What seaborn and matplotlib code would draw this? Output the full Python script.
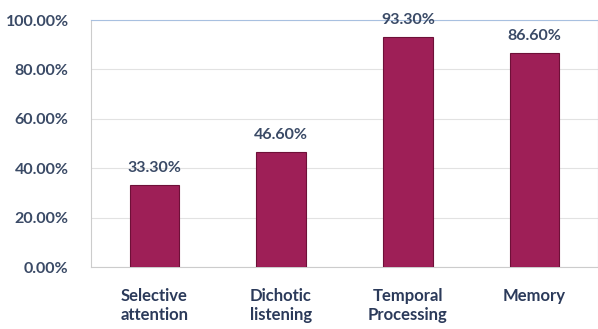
import pandas as pd
import numpy as np
import matplotlib
matplotlib.use("Agg")
import matplotlib.pyplot as plt
import seaborn as sns

# data
categories = ["Selective\nattention", "Dichotic\nlistening", "Temporal\nProcessing", "Memory"]
values = [33.3, 46.6, 93.3, 86.6]
yticks = [0, 20, 40, 60, 80, 100]

df = pd.DataFrame({"cat": categories, "val": values})

sns.set_style("white")
plt.rcParams["font.family"] = ["Lato", "DejaVu Sans"]

fig = plt.figure(figsize=(5.98, 3.29), dpi=100)
ax = fig.add_axes([0.152, 0.188, 0.848, 0.751])

sns.barplot(data=df, x="cat", y="val", color="#9E1F57", width=0.39,
            edgecolor="#6E1038", linewidth=0.8, saturation=1, ax=ax, zorder=3)

ax.set_xlim(-0.5, 3.5)
ax.set_ylim(0, 100)
ax.set_yticks(yticks)
ax.set_yticklabels(["%.2f%%" % t for t in yticks], fontsize=11.5, fontweight="bold", color="#3A4A66")
ax.yaxis.grid(True, color="#E2E2E2", linewidth=0.8, zorder=0)
ax.tick_params(axis="y", length=3, color="#BBBBBB", pad=13)

# category ticks sit between the bars
ax.set_xticks(range(len(categories)))
ax.set_xticklabels(categories, fontsize=12, fontweight="bold", color="#2B3A5A", linespacing=1.2)
ax.tick_params(axis="x", length=0, pad=15)
ax.set_xticks([0.5, 1.5, 2.5], minor=True)
ax.tick_params(axis="x", which="minor", length=3, color="#BBBBBB")
ax.set_xlabel("")
ax.set_ylabel("")

for s in ["left", "bottom"]:
    ax.spines[s].set_color("#CCCCCC")
    ax.spines[s].set_linewidth(0.8)
for s in ["top", "right"]:
    ax.spines[s].set_color("#A8C0E0")
    ax.spines[s].set_linewidth(0.8)

for i, v in enumerate(values):
    ax.text(i, v + 4, "%.2f%%" % v, ha="center", va="bottom", fontsize=11.5,
            fontweight="bold", color="#3A4A66")

fig.savefig("out.png", dpi=100)
